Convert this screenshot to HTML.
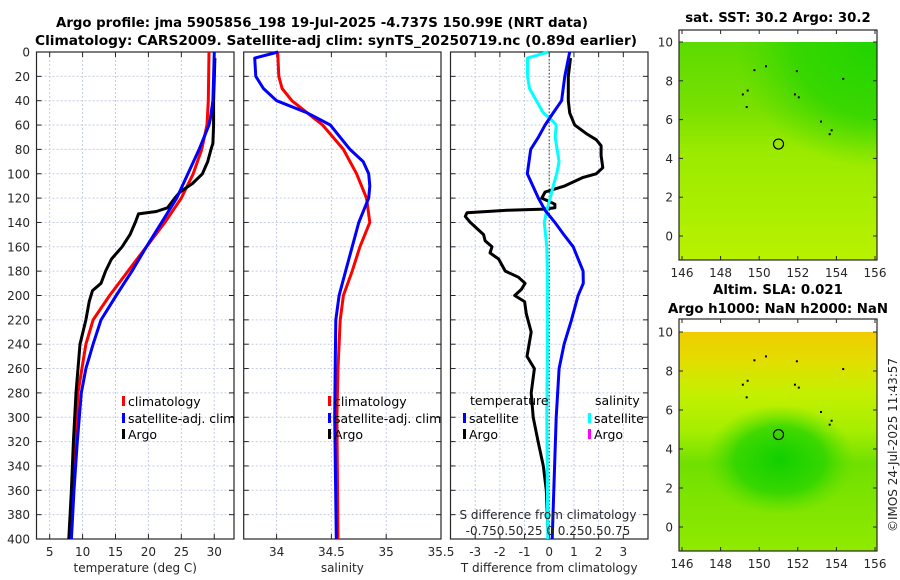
<!DOCTYPE html>
<html><head><meta charset="utf-8"><style>
body{margin:0;background:#fff;}
svg{display:block;font-family:"DejaVu Sans","Liberation Sans",sans-serif;}
.tk{font-size:12px;fill:#262626;}
.ttl{font-size:13.3px;font-weight:bold;fill:#000;}
.lg{font-size:12.5px;fill:#000;}
</style></head><body>
<svg id="fig" width="900" height="580" viewBox="0 0 900 580" xmlns="http://www.w3.org/2000/svg">
<defs>
<linearGradient id="g1" x1="0" y1="0" x2="0" y2="1">
<stop offset="0" stop-color="#5cdb00"/><stop offset="0.3" stop-color="#78e000"/><stop offset="0.5" stop-color="#9aea00"/><stop offset="1" stop-color="#b8f200"/></linearGradient>
<radialGradient id="g1b" cx="1" cy="0" r="0.9"><stop offset="0" stop-color="#20d400" stop-opacity="1"/><stop offset="0.6" stop-color="#30d600" stop-opacity="0.85"/><stop offset="1" stop-color="#44d800" stop-opacity="0"/></radialGradient>
<linearGradient id="g2" x1="0" y1="0" x2="0" y2="1">
<stop offset="0" stop-color="#f0cc00"/><stop offset="0.12" stop-color="#e4dc00"/><stop offset="0.28" stop-color="#c4f000"/><stop offset="0.45" stop-color="#a6ee00"/><stop offset="0.6" stop-color="#70e000"/><stop offset="0.85" stop-color="#84e600"/><stop offset="1" stop-color="#90ea00"/></linearGradient>
<radialGradient id="g2b" cx="0.5" cy="0.5" r="0.5"><stop offset="0" stop-color="#10d000"/><stop offset="0.6" stop-color="#28d400" stop-opacity="0.8"/><stop offset="1" stop-color="#50dd00" stop-opacity="0"/></radialGradient>
</defs>
<text class="ttl" x="322" y="27" text-anchor="middle">Argo profile: jma 5905856_198 19-Jul-2025 -4.737S 150.99E (NRT data)</text>
<text class="ttl" x="336" y="45" text-anchor="middle" textLength="602" lengthAdjust="spacingAndGlyphs">Climatology: CARS2009. Satellite-adj clim: synTS_20250719.nc (0.89d earlier)</text>
<g id="panels"></g>
<g id="maps"></g>
<text class="tk" transform="translate(897,445) rotate(-90)" text-anchor="middle" font-size="12.5">©IMOS 24-Jul-2025 11:43:57</text>
</svg>
<script>
// ---- data: temperature panel ----
const tClimDepth = [0,40,60,80,100,120,140,160,180,200,220,240,260,280,320,360,400];
const tClimVal   = [29.2,29.1,28.9,28.1,26.8,25.0,22.5,19.7,16.9,14.1,11.6,10.5,9.9,9.3,8.9,8.5,8.1];
const tSatDepth  = [0,40,55,60,80,100,120,140,160,180,200,220,240,260,280,320,360,400];
const tSatVal    = [30.0,29.8,29.4,29.2,27.7,26.0,24.3,22.0,19.7,17.5,15.1,12.8,11.6,10.5,9.8,9.2,8.7,8.3];
const tArgoDepth = [5,40,60,75,80,90,100,108,115,120,128,131,133,140,150,160,170,180,190,196,205,220,240,280,320,360,400];
const tArgoVal   = [30.1,29.9,29.9,29.8,29.5,29.0,28.2,26.7,24.8,24.0,22.9,21.2,18.5,18.0,17.2,16.0,14.4,13.5,12.8,11.5,11.0,10.5,9.6,9.0,8.6,8.3,7.9];
// ---- data: salinity panel ----
const sClimDepth = [0,20,30,40,50,60,80,100,120,140,160,180,200,220,260,300,400];
const sClimVal   = [34.01,34.02,34.05,34.14,34.28,34.42,34.61,34.73,34.82,34.85,34.76,34.69,34.61,34.58,34.56,34.55,34.56];
const sSatDepth  = [0,5,20,30,40,50,60,80,90,100,110,120,140,160,180,200,220,260,300,400];
const sSatVal    = [34.015,33.80,33.81,33.88,34.0,34.28,34.49,34.67,34.79,34.84,34.85,34.84,34.75,34.69,34.63,34.57,34.54,34.535,34.53,34.545];
// ---- data: difference panel ----
const dTSatDepth = [0,20,40,50,60,70,80,100,120,130,140,150,160,180,190,200,220,240,260,300,350,400];
const dTSatVal   = [0.83,0.63,0.5,0.16,-0.17,-0.44,-0.75,-0.89,-0.44,-0.17,0.23,0.59,0.97,1.37,1.38,1.17,0.9,0.6,0.4,0.28,0.2,0.12];
const dTArgoDepth= [5,20,40,50,57,60,67,72,77,85,95,100,103,110,115,120,125,128,129,130,132,135,140,150,155,160,165,170,180,185,190,195,200,205,215,230,250,260,280,300,320,340,360,400];
const dTArgoVal  = [0.86,0.77,0.77,0.83,0.97,1.03,1.5,1.9,2.1,2.1,2.17,1.9,1.37,0.63,-0.17,-0.3,0.23,0.23,-0.2,-1.7,-3.33,-3.4,-3.2,-2.66,-2.6,-2.32,-2.4,-2.05,-1.78,-1.25,-0.98,-1.13,-1.4,-1.0,-0.93,-0.73,-0.9,-0.6,-0.73,-0.65,-0.45,-0.24,-0.12,-0.04];
const dSSatDepth = [0,5,20,30,40,50,57,60,70,80,90,100,110,120,130,140,160,180,200,250,300,350,400];
const dSSatVal   = [-0.01,-0.22,-0.22,-0.2,-0.13,-0.06,0.04,0.07,0.06,0.08,0.1,0.075,0.04,0.01,-0.025,-0.05,-0.025,-0.02,-0.02,-0.02,-0.025,-0.02,-0.015];
// ---- ticks ----
const depthTicks = [0,20,40,60,80,100,120,140,160,180,200,220,240,260,280,300,320,340,360,380,400];
const tTicks = [5,10,15,20,25,30];
const sTicks = [34,34.5,35,35.5];
const sTickLabels = ['34','34.5','35','35.5'];
const dTicks = [-3,-2,-1,0,1,2,3];
const lonTicks = [146,148,150,152,154,156];
const latTicks = [0,2,4,6,8,10];

const NS='http://www.w3.org/2000/svg';
function mk(tag,attrs,parent){const e=document.createElementNS(NS,tag);for(const k in attrs)e.setAttribute(k,attrs[k]);parent.appendChild(e);return e;}
const Y0=52,Y1=539;
const yD=d=>Y0+(d/400)*(Y1-Y0);
const panels=document.getElementById('panels');

function panel(name,x0,x1,vmin,vmax,xt,xtl,xlabel){
  const g=mk('g',{},panels);
  
  
  const sx=v=>x0+(v-vmin)/(vmax-vmin)*(x1-x0);
  depthTicks.forEach(d=>{const l=mk('line',{x1:x0,x2:x1,y1:yD(d),y2:yD(d),stroke:'#c5cde6','stroke-width':1,'stroke-dasharray':'2,2'},g);
    });
  xt.forEach((v,i)=>{const X=sx(v);
    if(X>x0+1&&X<x1-1){const l=mk('line',{x1:X,x2:X,y1:Y0,y2:Y1,stroke:'#c5cde6','stroke-width':1,'stroke-dasharray':'2,2'},g);
      }
    mk('line',{x1:X,x2:X,y1:Y1,y2:Y1-5,stroke:'#262626'},g);mk('line',{x1:X,x2:X,y1:Y0,y2:Y0+5,stroke:'#262626'},g);
    const t=mk('text',{x:X,y:Y1+17,'text-anchor':'middle',class:'tk'},g);t.textContent=xtl[i];
    });
  depthTicks.forEach(d=>{mk('line',{x1:x0,x2:x0+5,y1:yD(d),y2:yD(d),stroke:'#262626'},g);mk('line',{x1:x1,x2:x1-5,y1:yD(d),y2:yD(d),stroke:'#262626'},g);});
  const f=mk('rect',{x:x0,y:Y0,width:x1-x0,height:Y1-Y0,fill:'none',stroke:'#262626','stroke-width':1.2},g);
  
  const xl=mk('text',{x:(x0+x1)/2,y:572,'text-anchor':'middle',class:'tk','font-size':'13'},g);xl.textContent=xlabel;
  
  return {g,sx};
}
function line(p,depths,vals,color,name,w){
  const pts=depths.map((d,i)=>p.sx(vals[i]).toFixed(1)+','+yD(d).toFixed(1)).join(' ');
  const l=mk('polyline',{points:pts,fill:'none',stroke:color,'stroke-width':w||3,'stroke-linejoin':'round'},p.g);
  
}
function legend(g,x,y,color,label){
  const r=mk('rect',{x:x,y:y-5,width:3,height:10,fill:color},g);
  
  const t=mk('text',{x:x+6,y:y+5,class:'lg'},g);t.textContent=label;
  
}
depthTicks.forEach(d=>{const t=mk('text',{x:30,y:yD(d)+4.5,'text-anchor':'end',class:'tk'},panels);t.textContent=d;
  });

const p1=panel('temperature-panel',36.5,234,3,33,tTicks,tTicks.map(String),'temperature (deg C)');
line(p1,tClimDepth,tClimVal,'#ff0000','climatology-temp-line');
line(p1,tArgoDepth,tArgoVal,'#000000','argo-temp-line');
line(p1,tSatDepth,tSatVal,'#0000ff','satellite-temp-line');
legend(p1.g,122,401,'#ff0000','climatology');legend(p1.g,122,418,'#0000ff','satellite-adj. clim');legend(p1.g,122,434,'#000000','Argo');

const p2=panel('salinity-panel',243.7,441,33.7,35.5,sTicks,sTickLabels,'salinity');
line(p2,sClimDepth,sClimVal,'#ff0000','climatology-salinity-line');
line(p2,sSatDepth,sSatVal,'#0000ff','satellite-salinity-line');
legend(p2.g,328,401,'#ff0000','climatology');legend(p2.g,328,418,'#0000ff','satellite-adj. clim');legend(p2.g,328,434,'#000000','Argo');

const p3=panel('difference-panel',450.5,648,-4,4,dTicks,dTicks.map(String),'T difference from climatology');
const z=mk('line',{x1:p3.sx(0),x2:p3.sx(0),y1:Y0,y2:Y1,stroke:'#555','stroke-width':1.2,'stroke-dasharray':'1.5,2'},p3.g);

const sScale={sx:v=>p3.sx(v*4),g:p3.g};
line(p3,dTArgoDepth,dTArgoVal,'#000000','argo-temp-diff-line');
line(sScale,dSSatDepth,dSSatVal,'#00ffff','satellite-salinity-diff-line');
line(p3,dTSatDepth,dTSatVal,'#0000ff','satellite-temp-diff-line');
const tl=mk('text',{x:470,y:405,class:'lg'},p3.g);tl.textContent='temperature';

const sl=mk('text',{x:595,y:405,class:'lg'},p3.g);sl.textContent='salinity';

legend(p3.g,463,418,'#0000ff','satellite');legend(p3.g,463,434,'#000000','Argo');
legend(p3.g,588,418,'#00ffff','satellite');legend(p3.g,588,434,'#ff00ff','Argo');
const st=mk('text',{x:548,y:519,'text-anchor':'middle',class:'tk','font-size':'13'},p3.g);st.textContent='S difference from climatology';

const stl=mk('text',{x:548,y:535,'text-anchor':'middle',class:'tk'},p3.g);stl.textContent='-0.750.50.25 0  0.250.50.75';


// ---- maps ----
const maps=document.getElementById('maps');
function map(name,top,bot,y10,y0,grad,blob,title1,title2){
  const g=mk('g',{},maps);
  
  
  const L=679,R=877;
  const lx=v=>682+(v-146)/10*(875-682);
  const ly=v=>y0+(v)/10*(y10-y0);
  mk('rect',{x:L,y:y10,width:R-L,height:bot-y10,fill:'url(#'+grad+')'},g);
  mk('rect',blob,g);
  [[149.7,8.6],[150.3,8.8],[151.9,8.55],[154.3,8.15],[149.35,7.55],[149.1,7.35],[149.3,6.7],[151.8,7.35],[152.0,7.2],[153.15,5.95],[153.7,5.5],[153.6,5.3]].forEach(p=>mk('rect',{x:lx(p[0]),y:ly(p[1]),width:2,height:2,fill:'#000'},g));
  const c=mk('circle',{cx:lx(151),cy:ly(4.74),r:5,fill:'none',stroke:'#000','stroke-width':1.2},g);
  
  const f=mk('rect',{x:L,y:top,width:R-L,height:bot-top,fill:'none',stroke:'#262626','stroke-width':1.2},g);
  
  lonTicks.forEach(v=>{const X=lx(v);mk('line',{x1:X,x2:X,y1:bot,y2:bot-4,stroke:'#262626'},g);mk('line',{x1:X,x2:X,y1:top,y2:top+4,stroke:'#262626'},g);
    const t=mk('text',{x:X,y:bot+17,'text-anchor':'middle',class:'tk'},g);t.textContent=v;
    });
  latTicks.forEach(v=>{const Yv=ly(v);mk('line',{x1:L,x2:L+4,y1:Yv,y2:Yv,stroke:'#262626'},g);mk('line',{x1:R,x2:R-4,y1:Yv,y2:Yv,stroke:'#262626'},g);
    const t=mk('text',{x:L-6,y:Yv+4.5,'text-anchor':'end',class:'tk'},g);t.textContent=v;
    });
  const t1=mk('text',{x:778,y:top-(title2?25:8),'text-anchor':'middle',class:'ttl'},g);t1.textContent=title1;
  
  if(title2){const t2=mk('text',{x:778,y:top-6,'text-anchor':'middle',class:'ttl'},g);t2.textContent=title2;
    }
}
map('sst-map',30,260,42,236,'g1',{x:720,y:42,width:157,height:140,fill:'url(#g1b)'},'sat. SST: 30.2 Argo: 30.2');
map('sla-map',319,551,332,527,'g2',{x:705,y:405,width:150,height:110,fill:'url(#g2b)'},'Altim. SLA: 0.021','Argo h1000: NaN h2000: NaN');
</script>
</body></html>
